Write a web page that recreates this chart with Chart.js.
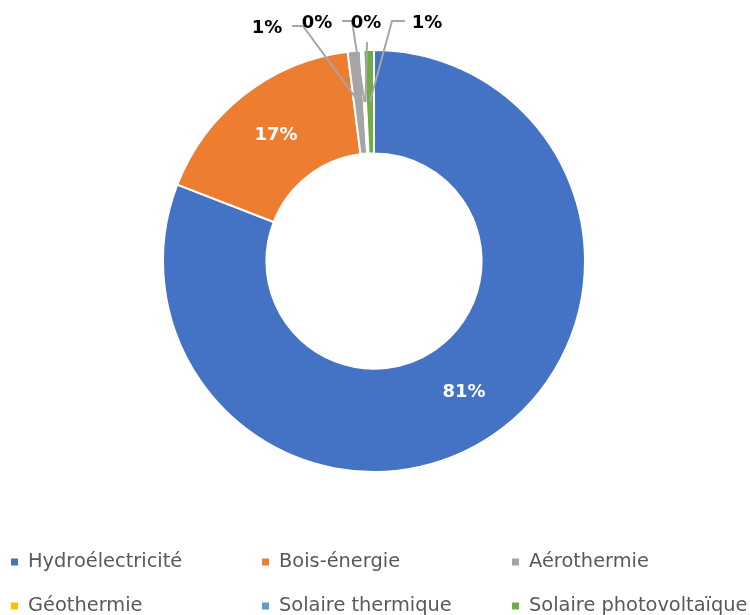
<!DOCTYPE html>
<html>
<head>
<meta charset="utf-8">
<script src="https://cdn.jsdelivr.net/npm/chart.js@4"></script>
<style>
  html, body { margin: 0; padding: 0; background: #fff; }
</style>
</head>
<body>
<canvas id="donut" width="750" height="615"></canvas>
<script>
const categories = ['Hydroélectricité', 'Bois-énergie', 'Aérothermie', 'Géothermie', 'Solaire thermique', 'Solaire photovoltaïque'];
const shares = [80.9, 17.1, 1.0, 0.1, 0.1, 0.8];
const colors = ['#4472C4', '#ED7D31', '#A5A5A5', '#FFC000', '#5B9BD5', '#70AD47'];

// small slices get their label outside, with a leader line (x, y = label centre)
const outsideLabels = {
    2: { x: 267, y: 28, path: [[292, 26], [303, 26]] },
    3: { x: 317, y: 23, path: [[342, 21], [352, 21]] },
    4: { x: 366, y: 23, path: [[367, 42]] },
    5: { x: 427, y: 23, path: [[405, 21], [392, 21]] }
};

const legendCols = [11, 262, 512];
const legendRows = [562, 606];

const total = shares.reduce((a, b) => a + b, 0);

const sliceLabels = {
    id: 'sliceLabels',
    afterDatasetsDraw(chart) {
        const ctx = chart.ctx;
        const arcs = chart.getDatasetMeta(0).data;
        ctx.save();
        ctx.font = 'bold 18px "DejaVu Sans"';
        ctx.textAlign = 'center';
        ctx.textBaseline = 'middle';
        arcs.forEach((arc, i) => {
            const txt = Math.round(shares[i] / total * 100) + '%';
            const c = arc.getCenterPoint();
            const out = outsideLabels[i];
            if (out) {
                ctx.strokeStyle = '#A6A6A6';
                ctx.lineWidth = 2;
                ctx.beginPath();
                ctx.moveTo(out.path[0][0], out.path[0][1]);
                out.path.slice(1).forEach(p => ctx.lineTo(p[0], p[1]));
                ctx.lineTo(c.x, c.y);
                ctx.stroke();
                ctx.fillStyle = '#000';
                ctx.fillText(txt, out.x, out.y);
            } else {
                ctx.fillStyle = '#fff';
                ctx.fillText(txt, c.x, c.y);
            }
        });
        ctx.restore();
    }
};

const gridLegend = {
    id: 'gridLegend',
    afterDraw(chart) {
        const ctx = chart.ctx;
        ctx.save();
        ctx.font = '19.4px "DejaVu Sans"';
        ctx.textBaseline = 'middle';
        ctx.textAlign = 'left';
        categories.forEach((name, i) => {
            const x = legendCols[i % 3];
            const y = legendRows[Math.floor(i / 3)];
            ctx.fillStyle = colors[i];
            ctx.fillRect(x, y - 3.5, 7, 7);
            ctx.fillStyle = '#595959';
            ctx.fillText(name, x + 17, y);
        });
        ctx.restore();
    }
};

new Chart(document.getElementById('donut'), {
    type: 'doughnut',
    data: {
        labels: categories,
        datasets: [{
            data: shares,
            backgroundColor: colors,
            borderColor: '#fff',
            borderWidth: 2
        }]
    },
    options: {
        responsive: false,
        animation: false,
        cutout: '51%',
        layout: { padding: { top: 49, bottom: 142, left: 0, right: 2 } },
        plugins: {
            legend: { display: false },
            tooltip: { enabled: false }
        }
    },
    plugins: [sliceLabels, gridLegend]
});
</script>
</body>
</html>
